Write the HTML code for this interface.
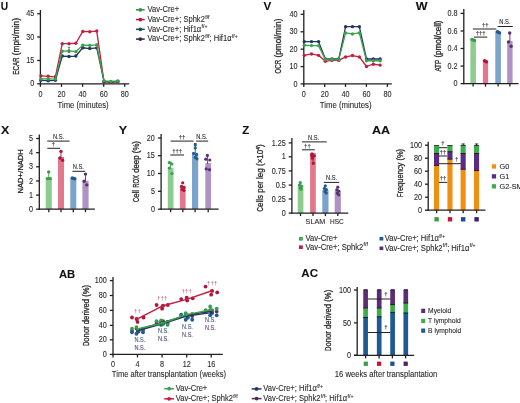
<!DOCTYPE html>
<html><head><meta charset="utf-8"><style>
html,body{margin:0;padding:0;background:#fff;width:520px;height:403px;overflow:hidden}
svg{display:block;font-family:"Liberation Sans",sans-serif;filter:blur(0.3px)}
text{stroke:currentColor;stroke-width:0.1px;paint-order:stroke}
</style></head><body>
<svg xmlns="http://www.w3.org/2000/svg" width="520" height="403" viewBox="0 0 520 403" fill="#2a2728" color="#2a2728">
<rect width="520" height="403" fill="#fff"/>
<text x="0.85" y="9.5" font-size="11.3" font-weight="bold" fill="#111" color="#111" textLength="7.4" lengthAdjust="spacingAndGlyphs">U</text>
<line x1="40.4" y1="10" x2="40.4" y2="84.35" stroke="#231f20" stroke-width="1.3"/>
<line x1="37.2" y1="13.7" x2="40.4" y2="13.7" stroke="#231f20" stroke-width="1.3"/>
<text x="34.2" y="16.37" font-size="8.6" text-anchor="end" textLength="8.03" lengthAdjust="spacingAndGlyphs">45</text>
<line x1="37.2" y1="37" x2="40.4" y2="37" stroke="#231f20" stroke-width="1.3"/>
<text x="34.2" y="39.67" font-size="8.6" text-anchor="end" textLength="8.03" lengthAdjust="spacingAndGlyphs">30</text>
<line x1="37.2" y1="60.5" x2="40.4" y2="60.5" stroke="#231f20" stroke-width="1.3"/>
<text x="34.2" y="63.17" font-size="8.6" text-anchor="end" textLength="8.03" lengthAdjust="spacingAndGlyphs">15</text>
<line x1="37.2" y1="83.8" x2="40.4" y2="83.8" stroke="#231f20" stroke-width="1.3"/>
<text x="34.2" y="86.47" font-size="8.6" text-anchor="end" textLength="4.02" lengthAdjust="spacingAndGlyphs">0</text>
<line x1="39.85" y1="83.8" x2="129.2" y2="83.8" stroke="#231f20" stroke-width="1.3"/>
<line x1="40.4" y1="83.8" x2="40.4" y2="86.8" stroke="#231f20" stroke-width="1.3"/>
<line x1="61.5" y1="83.8" x2="61.5" y2="86.8" stroke="#231f20" stroke-width="1.3"/>
<line x1="82.6" y1="83.8" x2="82.6" y2="86.8" stroke="#231f20" stroke-width="1.3"/>
<line x1="103.7" y1="83.8" x2="103.7" y2="86.8" stroke="#231f20" stroke-width="1.3"/>
<line x1="124.7" y1="83.8" x2="124.7" y2="86.8" stroke="#231f20" stroke-width="1.3"/>
<text x="40.4" y="96.6" font-size="8.6" text-anchor="middle" textLength="4.02" lengthAdjust="spacingAndGlyphs">0</text>
<text x="61.5" y="96.6" font-size="8.6" text-anchor="middle" textLength="8.03" lengthAdjust="spacingAndGlyphs">20</text>
<text x="82.6" y="96.6" font-size="8.6" text-anchor="middle" textLength="8.03" lengthAdjust="spacingAndGlyphs">40</text>
<text x="103.7" y="96.6" font-size="8.6" text-anchor="middle" textLength="8.03" lengthAdjust="spacingAndGlyphs">60</text>
<text x="124.7" y="96.6" font-size="8.6" text-anchor="middle" textLength="8.03" lengthAdjust="spacingAndGlyphs">80</text>
<text x="83.1" y="108.4" font-size="9.4" text-anchor="middle" textLength="51" lengthAdjust="spacingAndGlyphs">Time (minutes)</text>
<text x="18.9" y="74.7" font-size="8.2" transform="rotate(-90 18.9 74.7)" textLength="17.25" lengthAdjust="spacingAndGlyphs" style="stroke-width:0.3px">ECAR</text>
<text x="18.9" y="57.45" font-size="8.2" transform="rotate(-90 18.9 57.45)" textLength="16.56" lengthAdjust="spacingAndGlyphs" style="stroke-width:0.3px">&#160;(mp</text>
<text x="18.9" y="40.89" font-size="8.2" transform="rotate(-90 18.9 40.89)" textLength="4.48" lengthAdjust="spacingAndGlyphs" style="stroke-width:0.3px">H</text>
<text x="18.9" y="36.4" font-size="8.2" transform="rotate(-90 18.9 36.4)" textLength="18.4" lengthAdjust="spacingAndGlyphs" style="stroke-width:0.3px">/min)</text>
<polyline points="40.93,75.84 48.21,76.31 55.38,76.78 62.24,43.71 68.99,43.71 75.85,43.24 82.81,31.38 89.77,31.7 96.74,31.07 104.02,81.77 110.87,82.24 117.84,81.77" fill="none" stroke="#c41e3f" stroke-width="1.3" stroke-linejoin="round"/>
<circle cx="40.93" cy="75.84" r="1.7" fill="#c41e3f"/>
<circle cx="48.21" cy="76.31" r="1.7" fill="#c41e3f"/>
<circle cx="55.38" cy="76.78" r="1.7" fill="#c41e3f"/>
<circle cx="62.24" cy="43.71" r="1.7" fill="#c41e3f"/>
<circle cx="68.99" cy="43.71" r="1.7" fill="#c41e3f"/>
<circle cx="75.85" cy="43.24" r="1.7" fill="#c41e3f"/>
<circle cx="82.81" cy="31.38" r="1.7" fill="#c41e3f"/>
<circle cx="89.77" cy="31.7" r="1.7" fill="#c41e3f"/>
<circle cx="96.74" cy="31.07" r="1.7" fill="#c41e3f"/>
<circle cx="104.02" cy="81.77" r="1.7" fill="#c41e3f"/>
<circle cx="110.87" cy="82.24" r="1.7" fill="#c41e3f"/>
<circle cx="117.84" cy="81.77" r="1.7" fill="#c41e3f"/>
<polyline points="40.93,80.37 48.21,80.68 55.38,80.37 62.24,56.03 68.99,56.5 75.85,56.03 82.81,47.76 89.77,48.54 96.74,47.92 104.02,81.46 110.87,81.93 117.84,81.46" fill="none" stroke="#22365f" stroke-width="1.3" stroke-linejoin="round"/>
<circle cx="40.93" cy="80.37" r="1.7" fill="#22365f"/>
<circle cx="48.21" cy="80.68" r="1.7" fill="#22365f"/>
<circle cx="55.38" cy="80.37" r="1.7" fill="#22365f"/>
<circle cx="62.24" cy="56.03" r="1.7" fill="#22365f"/>
<circle cx="68.99" cy="56.5" r="1.7" fill="#22365f"/>
<circle cx="75.85" cy="56.03" r="1.7" fill="#22365f"/>
<circle cx="82.81" cy="47.76" r="1.7" fill="#22365f"/>
<circle cx="89.77" cy="48.54" r="1.7" fill="#22365f"/>
<circle cx="96.74" cy="47.92" r="1.7" fill="#22365f"/>
<circle cx="104.02" cy="81.46" r="1.7" fill="#22365f"/>
<circle cx="110.87" cy="81.93" r="1.7" fill="#22365f"/>
<circle cx="117.84" cy="81.46" r="1.7" fill="#22365f"/>
<polyline points="40.93,78.96 48.21,78.96 55.38,79.12 62.24,51.2 68.99,50.88 75.85,51.66 82.81,45.11 89.77,45.42 96.74,44.8 104.02,80.84 110.87,81.46 117.84,80.99" fill="none" stroke="#3aa24c" stroke-width="1.3" stroke-linejoin="round"/>
<circle cx="40.93" cy="78.96" r="1.7" fill="#3aa24c"/>
<circle cx="48.21" cy="78.96" r="1.7" fill="#3aa24c"/>
<circle cx="55.38" cy="79.12" r="1.7" fill="#3aa24c"/>
<circle cx="62.24" cy="51.2" r="1.7" fill="#3aa24c"/>
<circle cx="68.99" cy="50.88" r="1.7" fill="#3aa24c"/>
<circle cx="75.85" cy="51.66" r="1.7" fill="#3aa24c"/>
<circle cx="82.81" cy="45.11" r="1.7" fill="#3aa24c"/>
<circle cx="89.77" cy="45.42" r="1.7" fill="#3aa24c"/>
<circle cx="96.74" cy="44.8" r="1.7" fill="#3aa24c"/>
<circle cx="104.02" cy="80.84" r="1.7" fill="#3aa24c"/>
<circle cx="110.87" cy="81.46" r="1.7" fill="#3aa24c"/>
<circle cx="117.84" cy="80.99" r="1.7" fill="#3aa24c"/>
<line x1="69" y1="47.3" x2="69" y2="52.6" stroke="#3c7a45" stroke-width="0.9"/>
<line x1="67.8" y1="47.3" x2="70.2" y2="47.3" stroke="#3c7a45" stroke-width="0.9"/>
<line x1="67.8" y1="52.6" x2="70.2" y2="52.6" stroke="#3c7a45" stroke-width="0.9"/>
<line x1="136" y1="9.8" x2="144.7" y2="9.8" stroke="#2f9448" stroke-width="1.5"/>
<circle cx="140.3" cy="9.8" r="1.9" fill="#2f9448"/>
<text x="0" y="0" font-size="8.2" transform="translate(147.6 12) scale(0.925 1)">Vav-Cre+</text>
<line x1="136" y1="19.57" x2="144.7" y2="19.57" stroke="#b8173c" stroke-width="1.5"/>
<circle cx="140.3" cy="19.57" r="1.9" fill="#b8173c"/>
<text x="0" y="0" font-size="8.2" transform="translate(147.6 21.77) scale(0.925 1)">Vav-Cre+; Sphk2<tspan font-size="5.6" dx="0.4" dy="-3.2">f/f</tspan></text>
<line x1="136" y1="29.34" x2="144.7" y2="29.34" stroke="#17505a" stroke-width="1.5"/>
<circle cx="140.3" cy="29.34" r="1.9" fill="#17505a"/>
<text x="0" y="0" font-size="8.2" transform="translate(147.6 31.54) scale(0.925 1)">Vav-Cre+; Hif1&#945;<tspan font-size="5.6" dx="0.4" dy="-3.2">f/+</tspan></text>
<line x1="136" y1="39.11" x2="144.7" y2="39.11" stroke="#3e2346" stroke-width="1.5"/>
<circle cx="140.3" cy="39.11" r="1.9" fill="#3e2346"/>
<text x="0" y="0" font-size="8.2" transform="translate(147.6 41.31) scale(0.925 1)">Vav-Cre+; Sphk2<tspan font-size="5.6" dx="0.4" dy="-3.2">f/f</tspan><tspan dy="3.2">; Hif1&#945;</tspan><tspan font-size="5.6" dx="0.4" dy="-3.2">f/+</tspan></text>
<text x="263.55" y="9.7" font-size="11.3" font-weight="bold" fill="#111" color="#111" textLength="7.8" lengthAdjust="spacingAndGlyphs">V</text>
<line x1="303.8" y1="10" x2="303.8" y2="84.45" stroke="#231f20" stroke-width="1.3"/>
<line x1="300.6" y1="14.3" x2="303.8" y2="14.3" stroke="#231f20" stroke-width="1.3"/>
<text x="297.6" y="16.97" font-size="8.6" text-anchor="end" textLength="8.03" lengthAdjust="spacingAndGlyphs">40</text>
<line x1="300.6" y1="31.8" x2="303.8" y2="31.8" stroke="#231f20" stroke-width="1.3"/>
<text x="297.6" y="34.47" font-size="8.6" text-anchor="end" textLength="8.03" lengthAdjust="spacingAndGlyphs">30</text>
<line x1="300.6" y1="49.2" x2="303.8" y2="49.2" stroke="#231f20" stroke-width="1.3"/>
<text x="297.6" y="51.87" font-size="8.6" text-anchor="end" textLength="8.03" lengthAdjust="spacingAndGlyphs">20</text>
<line x1="300.6" y1="66.6" x2="303.8" y2="66.6" stroke="#231f20" stroke-width="1.3"/>
<text x="297.6" y="69.27" font-size="8.6" text-anchor="end" textLength="8.03" lengthAdjust="spacingAndGlyphs">10</text>
<line x1="300.6" y1="83.9" x2="303.8" y2="83.9" stroke="#231f20" stroke-width="1.3"/>
<text x="297.6" y="86.57" font-size="8.6" text-anchor="end" textLength="4.02" lengthAdjust="spacingAndGlyphs">0</text>
<line x1="303.25" y1="83.9" x2="391.8" y2="83.9" stroke="#231f20" stroke-width="1.3"/>
<line x1="303.8" y1="83.9" x2="303.8" y2="86.9" stroke="#231f20" stroke-width="1.3"/>
<line x1="324.7" y1="83.9" x2="324.7" y2="86.9" stroke="#231f20" stroke-width="1.3"/>
<line x1="345.5" y1="83.9" x2="345.5" y2="86.9" stroke="#231f20" stroke-width="1.3"/>
<line x1="366.4" y1="83.9" x2="366.4" y2="86.9" stroke="#231f20" stroke-width="1.3"/>
<line x1="387.4" y1="83.9" x2="387.4" y2="86.9" stroke="#231f20" stroke-width="1.3"/>
<text x="303.8" y="96.6" font-size="8.6" text-anchor="middle" textLength="4.02" lengthAdjust="spacingAndGlyphs">0</text>
<text x="324.7" y="96.6" font-size="8.6" text-anchor="middle" textLength="8.03" lengthAdjust="spacingAndGlyphs">20</text>
<text x="345.5" y="96.6" font-size="8.6" text-anchor="middle" textLength="8.03" lengthAdjust="spacingAndGlyphs">40</text>
<text x="366.4" y="96.6" font-size="8.6" text-anchor="middle" textLength="8.03" lengthAdjust="spacingAndGlyphs">60</text>
<text x="387.4" y="96.6" font-size="8.6" text-anchor="middle" textLength="8.03" lengthAdjust="spacingAndGlyphs">80</text>
<text x="345.6" y="108.4" font-size="9.4" text-anchor="middle" textLength="51.8" lengthAdjust="spacingAndGlyphs">Time (minutes)</text>
<text x="281.4" y="73.5" font-size="8.6" transform="rotate(-90 281.4 73.5)" textLength="13.72" lengthAdjust="spacingAndGlyphs" style="stroke-width:0.3px">OCR</text>
<text x="281.4" y="59.78" font-size="8.6" transform="rotate(-90 281.4 59.78)" textLength="41.18" lengthAdjust="spacingAndGlyphs" style="stroke-width:0.3px">&#160;(pmol/min)</text>
<polyline points="304.32,55.36 311.5,53.97 318.57,55.36 325.33,61.28 331.98,60.41 338.74,60.41 345.61,56.93 352.47,55.54 359.34,56.93 366.51,66.5 373.27,64.24 380.14,65.11" fill="none" stroke="#c41e3f" stroke-width="1.3" stroke-linejoin="round"/>
<circle cx="304.32" cy="55.36" r="1.7" fill="#c41e3f"/>
<circle cx="311.5" cy="53.97" r="1.7" fill="#c41e3f"/>
<circle cx="318.57" cy="55.36" r="1.7" fill="#c41e3f"/>
<circle cx="325.33" cy="61.28" r="1.7" fill="#c41e3f"/>
<circle cx="331.98" cy="60.41" r="1.7" fill="#c41e3f"/>
<circle cx="338.74" cy="60.41" r="1.7" fill="#c41e3f"/>
<circle cx="345.61" cy="56.93" r="1.7" fill="#c41e3f"/>
<circle cx="352.47" cy="55.54" r="1.7" fill="#c41e3f"/>
<circle cx="359.34" cy="56.93" r="1.7" fill="#c41e3f"/>
<circle cx="366.51" cy="66.5" r="1.7" fill="#c41e3f"/>
<circle cx="373.27" cy="64.24" r="1.7" fill="#c41e3f"/>
<circle cx="380.14" cy="65.11" r="1.7" fill="#c41e3f"/>
<polyline points="304.32,41.62 311.5,41.62 318.57,41.62 325.33,59.02 331.98,59.02 338.74,59.02 345.61,26.65 352.47,26.65 359.34,26.65 366.51,59.02 373.27,59.02 380.14,59.02" fill="none" stroke="#22365f" stroke-width="1.3" stroke-linejoin="round"/>
<circle cx="304.32" cy="41.62" r="1.7" fill="#22365f"/>
<circle cx="311.5" cy="41.62" r="1.7" fill="#22365f"/>
<circle cx="318.57" cy="41.62" r="1.7" fill="#22365f"/>
<circle cx="325.33" cy="59.02" r="1.7" fill="#22365f"/>
<circle cx="331.98" cy="59.02" r="1.7" fill="#22365f"/>
<circle cx="338.74" cy="59.02" r="1.7" fill="#22365f"/>
<circle cx="345.61" cy="26.65" r="1.7" fill="#22365f"/>
<circle cx="352.47" cy="26.65" r="1.7" fill="#22365f"/>
<circle cx="359.34" cy="26.65" r="1.7" fill="#22365f"/>
<circle cx="366.51" cy="59.02" r="1.7" fill="#22365f"/>
<circle cx="373.27" cy="59.02" r="1.7" fill="#22365f"/>
<circle cx="380.14" cy="59.02" r="1.7" fill="#22365f"/>
<polyline points="304.32,45.27 311.5,45.62 318.57,45.62 325.33,59.54 331.98,59.54 338.74,59.54 345.61,32.92 352.47,33.96 359.34,32.92 366.51,60.76 373.27,60.76 380.14,60.76" fill="none" stroke="#3aa24c" stroke-width="1.3" stroke-linejoin="round"/>
<circle cx="304.32" cy="45.27" r="1.7" fill="#3aa24c"/>
<circle cx="311.5" cy="45.62" r="1.7" fill="#3aa24c"/>
<circle cx="318.57" cy="45.62" r="1.7" fill="#3aa24c"/>
<circle cx="325.33" cy="59.54" r="1.7" fill="#3aa24c"/>
<circle cx="331.98" cy="59.54" r="1.7" fill="#3aa24c"/>
<circle cx="338.74" cy="59.54" r="1.7" fill="#3aa24c"/>
<circle cx="345.61" cy="32.92" r="1.7" fill="#3aa24c"/>
<circle cx="352.47" cy="33.96" r="1.7" fill="#3aa24c"/>
<circle cx="359.34" cy="32.92" r="1.7" fill="#3aa24c"/>
<circle cx="366.51" cy="60.76" r="1.7" fill="#3aa24c"/>
<circle cx="373.27" cy="60.76" r="1.7" fill="#3aa24c"/>
<circle cx="380.14" cy="60.76" r="1.7" fill="#3aa24c"/>
<text x="415.65" y="10.2" font-size="11.3" font-weight="bold" fill="#111" color="#111" textLength="11.8" lengthAdjust="spacingAndGlyphs">W</text>
<line x1="463.8" y1="9.1" x2="463.8" y2="84.15" stroke="#231f20" stroke-width="1.3"/>
<line x1="460.6" y1="13.4" x2="463.8" y2="13.4" stroke="#231f20" stroke-width="1.3"/>
<text x="457.6" y="16.07" font-size="8.6" text-anchor="end" textLength="10.04" lengthAdjust="spacingAndGlyphs">0.8</text>
<line x1="460.6" y1="31" x2="463.8" y2="31" stroke="#231f20" stroke-width="1.3"/>
<text x="457.6" y="33.67" font-size="8.6" text-anchor="end" textLength="10.04" lengthAdjust="spacingAndGlyphs">0.6</text>
<line x1="460.6" y1="48.5" x2="463.8" y2="48.5" stroke="#231f20" stroke-width="1.3"/>
<text x="457.6" y="51.17" font-size="8.6" text-anchor="end" textLength="10.04" lengthAdjust="spacingAndGlyphs">0.4</text>
<line x1="460.6" y1="66.1" x2="463.8" y2="66.1" stroke="#231f20" stroke-width="1.3"/>
<text x="457.6" y="68.77" font-size="8.6" text-anchor="end" textLength="10.04" lengthAdjust="spacingAndGlyphs">0.2</text>
<line x1="460.6" y1="83.6" x2="463.8" y2="83.6" stroke="#231f20" stroke-width="1.3"/>
<text x="457.6" y="86.27" font-size="8.6" text-anchor="end" textLength="4.02" lengthAdjust="spacingAndGlyphs">0</text>
<text x="441" y="71.6" font-size="8.3" transform="rotate(-90 441 71.6)" textLength="11.74" lengthAdjust="spacingAndGlyphs" style="stroke-width:0.3px">ATP</text>
<text x="441" y="59.86" font-size="8.3" transform="rotate(-90 441 59.86)" textLength="39.36" lengthAdjust="spacingAndGlyphs" style="stroke-width:0.3px">&#160;(pmol/cell)</text>
<rect x="470.4" y="39" width="5.5" height="44.6" fill="#8ccd8f"/>
<rect x="482.9" y="60.4" width="5.2" height="23.2" fill="#e4778c"/>
<rect x="495.3" y="31.6" width="5.6" height="52" fill="#7ca3cb"/>
<rect x="507.2" y="40.9" width="5.4" height="42.7" fill="#af93c4"/>
<line x1="463.25" y1="83.6" x2="518.5" y2="83.6" stroke="#231f20" stroke-width="1.3"/>
<line x1="473.1" y1="83.6" x2="473.1" y2="86.6" stroke="#231f20" stroke-width="1.3"/>
<line x1="485.5" y1="83.6" x2="485.5" y2="86.6" stroke="#231f20" stroke-width="1.3"/>
<line x1="498.1" y1="83.6" x2="498.1" y2="86.6" stroke="#231f20" stroke-width="1.3"/>
<line x1="509.9" y1="83.6" x2="509.9" y2="86.6" stroke="#231f20" stroke-width="1.3"/>
<circle cx="472" cy="39.4" r="1.7" fill="#3a9c4c"/>
<circle cx="474.4" cy="40.5" r="1.7" fill="#3a9c4c"/>
<circle cx="473.2" cy="39.9" r="1.7" fill="#3a9c4c"/>
<circle cx="484.5" cy="60.8" r="1.7" fill="#b3143c"/>
<circle cx="486.5" cy="61.9" r="1.7" fill="#b3143c"/>
<circle cx="485.5" cy="61.3" r="1.7" fill="#b3143c"/>
<circle cx="497.3" cy="31.8" r="1.7" fill="#1f5a94"/>
<circle cx="499.5" cy="32.9" r="1.7" fill="#1f5a94"/>
<circle cx="498.4" cy="32.3" r="1.7" fill="#1f5a94"/>
<line x1="509.9" y1="33" x2="509.9" y2="41.5" stroke="#5a2f70" stroke-width="0.9"/>
<line x1="508.7" y1="33" x2="511.1" y2="33" stroke="#5a2f70" stroke-width="0.9"/>
<circle cx="509.7" cy="33" r="1.7" fill="#5a2f70"/>
<circle cx="508.5" cy="41.9" r="1.7" fill="#5a2f70"/>
<circle cx="511.1" cy="46.2" r="1.7" fill="#5a2f70"/>
<line x1="473.9" y1="37.1" x2="487.3" y2="37.1" stroke="#222" stroke-width="1"/>
<text x="480.6" y="35.4" font-size="5.6" text-anchor="middle" textLength="9.9" lengthAdjust="spacingAndGlyphs">&#8224;&#8224;&#8224;</text>
<line x1="472.9" y1="29" x2="496.3" y2="29" stroke="#222" stroke-width="1"/>
<text x="485.2" y="26.6" font-size="5.6" text-anchor="middle" textLength="6.6" lengthAdjust="spacingAndGlyphs">&#8224;&#8224;</text>
<line x1="497.7" y1="26.5" x2="512.8" y2="26.5" stroke="#222" stroke-width="1"/>
<text x="504.9" y="24.3" font-size="6.3" text-anchor="middle" textLength="11.2" lengthAdjust="spacingAndGlyphs">N.S.</text>
<text x="1.05" y="133.8" font-size="11.3" font-weight="bold" fill="#111" color="#111" textLength="8.3" lengthAdjust="spacingAndGlyphs">X</text>
<line x1="39.3" y1="134.5" x2="39.3" y2="209.75" stroke="#231f20" stroke-width="1.3"/>
<line x1="36.1" y1="138.5" x2="39.3" y2="138.5" stroke="#231f20" stroke-width="1.3"/>
<text x="33.1" y="141.17" font-size="8.6" text-anchor="end" textLength="4.02" lengthAdjust="spacingAndGlyphs">5</text>
<line x1="36.1" y1="152.65" x2="39.3" y2="152.65" stroke="#231f20" stroke-width="1.3"/>
<text x="33.1" y="155.32" font-size="8.6" text-anchor="end" textLength="4.02" lengthAdjust="spacingAndGlyphs">4</text>
<line x1="36.1" y1="166.8" x2="39.3" y2="166.8" stroke="#231f20" stroke-width="1.3"/>
<text x="33.1" y="169.47" font-size="8.6" text-anchor="end" textLength="4.02" lengthAdjust="spacingAndGlyphs">3</text>
<line x1="36.1" y1="180.95" x2="39.3" y2="180.95" stroke="#231f20" stroke-width="1.3"/>
<text x="33.1" y="183.62" font-size="8.6" text-anchor="end" textLength="4.02" lengthAdjust="spacingAndGlyphs">2</text>
<line x1="36.1" y1="195.1" x2="39.3" y2="195.1" stroke="#231f20" stroke-width="1.3"/>
<text x="33.1" y="197.77" font-size="8.6" text-anchor="end" textLength="4.02" lengthAdjust="spacingAndGlyphs">1</text>
<line x1="36.1" y1="209.2" x2="39.3" y2="209.2" stroke="#231f20" stroke-width="1.3"/>
<text x="33.1" y="211.87" font-size="8.6" text-anchor="end" textLength="4.02" lengthAdjust="spacingAndGlyphs">0</text>
<text x="23" y="193.4" font-size="8" transform="rotate(-90 23 193.4)" textLength="15.7" lengthAdjust="spacingAndGlyphs" style="stroke-width:0.3px">NAD</text>
<text x="23" y="177.7" font-size="8" transform="rotate(-90 23 177.7)" textLength="7.12" lengthAdjust="spacingAndGlyphs" style="stroke-width:0.3px">+/</text>
<text x="23" y="170.57" font-size="8" transform="rotate(-90 23 170.57)" textLength="21.07" lengthAdjust="spacingAndGlyphs" style="stroke-width:0.3px">NADH</text>
<rect x="45.7" y="177.5" width="6.1" height="31.7" fill="#8ccd8f"/>
<rect x="58" y="157" width="6" height="52.2" fill="#e4778c"/>
<rect x="70.3" y="178.2" width="6" height="31" fill="#7ca3cb"/>
<rect x="82.4" y="180.8" width="6.2" height="28.4" fill="#af93c4"/>
<line x1="38.75" y1="209.2" x2="94.9" y2="209.2" stroke="#231f20" stroke-width="1.3"/>
<line x1="48.8" y1="209.2" x2="48.8" y2="212.2" stroke="#231f20" stroke-width="1.3"/>
<line x1="61" y1="209.2" x2="61" y2="212.2" stroke="#231f20" stroke-width="1.3"/>
<line x1="73.3" y1="209.2" x2="73.3" y2="212.2" stroke="#231f20" stroke-width="1.3"/>
<line x1="85.5" y1="209.2" x2="85.5" y2="212.2" stroke="#231f20" stroke-width="1.3"/>
<line x1="48.7" y1="171.9" x2="48.7" y2="178" stroke="#3a9c4c" stroke-width="0.9"/>
<line x1="47.5" y1="171.9" x2="49.9" y2="171.9" stroke="#3a9c4c" stroke-width="0.9"/>
<circle cx="48.7" cy="171.9" r="1.7" fill="#3a9c4c"/>
<circle cx="47.6" cy="178.6" r="1.7" fill="#3a9c4c"/>
<circle cx="50.2" cy="178.6" r="1.7" fill="#3a9c4c"/>
<line x1="61" y1="151.4" x2="61" y2="157" stroke="#b3143c" stroke-width="0.9"/>
<line x1="59.8" y1="151.4" x2="62.2" y2="151.4" stroke="#b3143c" stroke-width="0.9"/>
<circle cx="61" cy="151.4" r="1.7" fill="#b3143c"/>
<circle cx="60" cy="158" r="1.7" fill="#b3143c"/>
<circle cx="62.6" cy="160.3" r="1.7" fill="#b3143c"/>
<circle cx="72.2" cy="178" r="1.7" fill="#1f5a94"/>
<circle cx="73.6" cy="178.4" r="1.7" fill="#1f5a94"/>
<circle cx="74.8" cy="178.8" r="1.7" fill="#1f5a94"/>
<line x1="85.5" y1="174.1" x2="85.5" y2="181" stroke="#5a2f70" stroke-width="0.9"/>
<line x1="84.3" y1="174.1" x2="86.7" y2="174.1" stroke="#5a2f70" stroke-width="0.9"/>
<circle cx="85.5" cy="174.1" r="1.7" fill="#5a2f70"/>
<circle cx="84.2" cy="181.3" r="1.7" fill="#5a2f70"/>
<circle cx="86.8" cy="184.9" r="1.7" fill="#5a2f70"/>
<line x1="47.3" y1="141.1" x2="69.6" y2="141.1" stroke="#222" stroke-width="1"/>
<text x="58.5" y="139.1" font-size="6.3" text-anchor="middle" textLength="11.2" lengthAdjust="spacingAndGlyphs">N.S.</text>
<line x1="47.3" y1="148.3" x2="60.1" y2="148.3" stroke="#222" stroke-width="1"/>
<text x="53.3" y="146" font-size="5.6" text-anchor="middle" textLength="3.3" lengthAdjust="spacingAndGlyphs">&#8224;</text>
<line x1="72.4" y1="171.3" x2="85.2" y2="171.3" stroke="#222" stroke-width="1"/>
<text x="78.3" y="168.6" font-size="6.3" text-anchor="middle" textLength="11.2" lengthAdjust="spacingAndGlyphs">N.S.</text>
<text x="118.65" y="133.8" font-size="11.3" font-weight="bold" fill="#111" color="#111" textLength="8.4" lengthAdjust="spacingAndGlyphs">Y</text>
<line x1="161.1" y1="134" x2="161.1" y2="209.75" stroke="#231f20" stroke-width="1.3"/>
<line x1="157.9" y1="138" x2="161.1" y2="138" stroke="#231f20" stroke-width="1.3"/>
<text x="154.9" y="140.67" font-size="8.6" text-anchor="end" textLength="8.03" lengthAdjust="spacingAndGlyphs">20</text>
<line x1="157.9" y1="155.7" x2="161.1" y2="155.7" stroke="#231f20" stroke-width="1.3"/>
<text x="154.9" y="158.37" font-size="8.6" text-anchor="end" textLength="8.03" lengthAdjust="spacingAndGlyphs">15</text>
<line x1="157.9" y1="173.5" x2="161.1" y2="173.5" stroke="#231f20" stroke-width="1.3"/>
<text x="154.9" y="176.17" font-size="8.6" text-anchor="end" textLength="8.03" lengthAdjust="spacingAndGlyphs">10</text>
<line x1="157.9" y1="191.3" x2="161.1" y2="191.3" stroke="#231f20" stroke-width="1.3"/>
<text x="154.9" y="193.97" font-size="8.6" text-anchor="end" textLength="4.02" lengthAdjust="spacingAndGlyphs">5</text>
<line x1="157.9" y1="209.2" x2="161.1" y2="209.2" stroke="#231f20" stroke-width="1.3"/>
<text x="154.9" y="211.87" font-size="8.6" text-anchor="end" textLength="4.02" lengthAdjust="spacingAndGlyphs">0</text>
<text x="139.5" y="202.1" font-size="9" transform="rotate(-90 139.5 202.1)" textLength="4.25" lengthAdjust="spacingAndGlyphs" style="stroke-width:0.3px">C</text>
<text x="139.5" y="197.85" font-size="9" transform="rotate(-90 139.5 197.85)" textLength="10.04" lengthAdjust="spacingAndGlyphs" style="stroke-width:0.3px">ell&#160;</text>
<text x="139.5" y="187.81" font-size="9" transform="rotate(-90 139.5 187.81)" textLength="12.76" lengthAdjust="spacingAndGlyphs" style="stroke-width:0.3px">ROX</text>
<text x="139.5" y="175.05" font-size="9" transform="rotate(-90 139.5 175.05)" textLength="34.05" lengthAdjust="spacingAndGlyphs" style="stroke-width:0.3px">&#160;deep&#160;(%)</text>
<rect x="167.8" y="168.1" width="5.7" height="41.1" fill="#8ccd8f"/>
<rect x="179.9" y="186.6" width="5.7" height="22.6" fill="#e4778c"/>
<rect x="192" y="153.5" width="6.2" height="55.7" fill="#7ca3cb"/>
<rect x="205.3" y="163.2" width="5.8" height="46" fill="#af93c4"/>
<line x1="160.55" y1="209.2" x2="218.6" y2="209.2" stroke="#231f20" stroke-width="1.3"/>
<line x1="170.6" y1="209.2" x2="170.6" y2="212.2" stroke="#231f20" stroke-width="1.3"/>
<line x1="182.8" y1="209.2" x2="182.8" y2="212.2" stroke="#231f20" stroke-width="1.3"/>
<line x1="195.1" y1="209.2" x2="195.1" y2="212.2" stroke="#231f20" stroke-width="1.3"/>
<line x1="208.2" y1="209.2" x2="208.2" y2="212.2" stroke="#231f20" stroke-width="1.3"/>
<line x1="170.6" y1="162.4" x2="170.6" y2="169" stroke="#3a9c4c" stroke-width="0.9"/>
<line x1="169.3" y1="162.2" x2="171.9" y2="162.2" stroke="#3a9c4c" stroke-width="0.9"/>
<circle cx="169.3" cy="162.6" r="1.6" fill="#3a9c4c"/>
<circle cx="171.9" cy="164" r="1.6" fill="#3a9c4c"/>
<circle cx="169.3" cy="168" r="1.6" fill="#3a9c4c"/>
<circle cx="171.9" cy="173.5" r="1.6" fill="#3a9c4c"/>
<circle cx="182.7" cy="182.8" r="1.6" fill="#b3143c"/>
<circle cx="181.5" cy="186.3" r="1.6" fill="#b3143c"/>
<circle cx="184" cy="187.4" r="1.6" fill="#b3143c"/>
<circle cx="182" cy="189.5" r="1.6" fill="#b3143c"/>
<circle cx="184" cy="190.6" r="1.6" fill="#b3143c"/>
<line x1="195.3" y1="143.5" x2="195.3" y2="153" stroke="#1f5a94" stroke-width="0.9"/>
<line x1="194" y1="143.5" x2="196.6" y2="143.5" stroke="#1f5a94" stroke-width="0.9"/>
<circle cx="195.3" cy="144.9" r="1.6" fill="#1f5a94"/>
<circle cx="195.3" cy="148" r="1.6" fill="#1f5a94"/>
<circle cx="193.6" cy="153.3" r="1.6" fill="#1f5a94"/>
<circle cx="196.5" cy="154.4" r="1.6" fill="#1f5a94"/>
<circle cx="195.3" cy="157.4" r="1.6" fill="#1f5a94"/>
<circle cx="196.9" cy="158.8" r="1.6" fill="#1f5a94"/>
<line x1="207.6" y1="155.2" x2="207.6" y2="164" stroke="#5a2f70" stroke-width="0.9"/>
<circle cx="207.4" cy="155.4" r="1.6" fill="#5a2f70"/>
<circle cx="209.8" cy="160" r="1.6" fill="#5a2f70"/>
<circle cx="205.8" cy="159.2" r="1.6" fill="#5a2f70"/>
<circle cx="206.2" cy="168.9" r="1.6" fill="#5a2f70"/>
<circle cx="209.5" cy="169.7" r="1.6" fill="#5a2f70"/>
<line x1="170.7" y1="141.1" x2="193.6" y2="141.1" stroke="#222" stroke-width="1"/>
<text x="182" y="138.9" font-size="5.6" text-anchor="middle" textLength="6.6" lengthAdjust="spacingAndGlyphs">&#8224;&#8224;</text>
<line x1="170.3" y1="155" x2="184" y2="155" stroke="#222" stroke-width="1"/>
<text x="177.2" y="153.1" font-size="5.6" text-anchor="middle" textLength="9.9" lengthAdjust="spacingAndGlyphs">&#8224;&#8224;&#8224;</text>
<line x1="196.1" y1="141.1" x2="208.2" y2="141.1" stroke="#222" stroke-width="1"/>
<text x="201.8" y="139.4" font-size="6.3" text-anchor="middle" textLength="11.2" lengthAdjust="spacingAndGlyphs">N.S.</text>
<text x="242.35" y="133.8" font-size="11.3" font-weight="bold" fill="#111" color="#111" textLength="7" lengthAdjust="spacingAndGlyphs">Z</text>
<line x1="291.9" y1="138" x2="291.9" y2="213.65" stroke="#231f20" stroke-width="1.3"/>
<line x1="288.7" y1="142.9" x2="291.9" y2="142.9" stroke="#231f20" stroke-width="1.3"/>
<text x="285.7" y="145.57" font-size="8.6" text-anchor="end" textLength="14.06" lengthAdjust="spacingAndGlyphs">1.25</text>
<line x1="288.7" y1="156.8" x2="291.9" y2="156.8" stroke="#231f20" stroke-width="1.3"/>
<text x="285.7" y="159.47" font-size="8.6" text-anchor="end" textLength="4.02" lengthAdjust="spacingAndGlyphs">1</text>
<line x1="288.7" y1="170.9" x2="291.9" y2="170.9" stroke="#231f20" stroke-width="1.3"/>
<text x="285.7" y="173.57" font-size="8.6" text-anchor="end" textLength="14.06" lengthAdjust="spacingAndGlyphs">0.75</text>
<line x1="288.7" y1="185.1" x2="291.9" y2="185.1" stroke="#231f20" stroke-width="1.3"/>
<text x="285.7" y="187.77" font-size="8.6" text-anchor="end" textLength="10.04" lengthAdjust="spacingAndGlyphs">0.5</text>
<line x1="288.7" y1="199" x2="291.9" y2="199" stroke="#231f20" stroke-width="1.3"/>
<text x="285.7" y="201.67" font-size="8.6" text-anchor="end" textLength="14.06" lengthAdjust="spacingAndGlyphs">0.25</text>
<line x1="288.7" y1="213.1" x2="291.9" y2="213.1" stroke="#231f20" stroke-width="1.3"/>
<text x="285.7" y="215.77" font-size="8.6" text-anchor="end" textLength="4.02" lengthAdjust="spacingAndGlyphs">0</text>
<text x="263.2" y="211.4" font-size="9.8" transform="rotate(-90 263.2 211.4)" textLength="4.35" lengthAdjust="spacingAndGlyphs" style="stroke-width:0.3px">C</text>
<text x="263.2" y="207.05" font-size="9.8" transform="rotate(-90 263.2 207.05)" textLength="57.32" lengthAdjust="spacingAndGlyphs" style="stroke-width:0.3px">ells&#160;per&#160;leg&#160;(×10</text>
<text x="259.67" y="149.74" font-size="6.08" transform="rotate(-90 259.67 149.74)" textLength="2.77" lengthAdjust="spacingAndGlyphs" style="stroke-width:0.3px">4</text>
<text x="263.2" y="146.97" font-size="9.8" transform="rotate(-90 263.2 146.97)" textLength="2.67" lengthAdjust="spacingAndGlyphs" style="stroke-width:0.3px">)</text>
<rect x="297.7" y="185.8" width="5.7" height="27.3" fill="#8ccd8f"/>
<rect x="310.1" y="153" width="5.7" height="60.1" fill="#e4778c"/>
<rect x="322.3" y="190" width="6.2" height="23.1" fill="#7ca3cb"/>
<rect x="334.7" y="190.8" width="6.2" height="22.3" fill="#af93c4"/>
<line x1="291.65" y1="213.1" x2="348.3" y2="213.1" stroke="#231f20" stroke-width="1.3"/>
<line x1="300.5" y1="213.1" x2="300.5" y2="216.1" stroke="#231f20" stroke-width="1.3"/>
<line x1="313" y1="213.1" x2="313" y2="216.1" stroke="#231f20" stroke-width="1.3"/>
<line x1="325.4" y1="213.1" x2="325.4" y2="216.1" stroke="#231f20" stroke-width="1.3"/>
<line x1="337.8" y1="213.1" x2="337.8" y2="216.1" stroke="#231f20" stroke-width="1.3"/>
<line x1="313" y1="153" x2="313" y2="164.5" stroke="#b3143c" stroke-width="0.9"/>
<circle cx="300.3" cy="182.6" r="1.6" fill="#3a9c4c"/>
<circle cx="299.4" cy="185" r="1.6" fill="#3a9c4c"/>
<circle cx="301.5" cy="186.2" r="1.6" fill="#3a9c4c"/>
<circle cx="300.2" cy="188" r="1.6" fill="#3a9c4c"/>
<circle cx="301.2" cy="189.2" r="1.6" fill="#3a9c4c"/>
<circle cx="312" cy="153.8" r="1.6" fill="#b3143c"/>
<circle cx="314.2" cy="155.8" r="1.6" fill="#b3143c"/>
<circle cx="312.4" cy="158.2" r="1.6" fill="#b3143c"/>
<circle cx="313.4" cy="163.3" r="1.6" fill="#b3143c"/>
<circle cx="311.6" cy="155.5" r="1.6" fill="#b3143c"/>
<circle cx="325.3" cy="185.8" r="1.6" fill="#1f5a94"/>
<circle cx="324.4" cy="188.4" r="1.6" fill="#1f5a94"/>
<circle cx="326.4" cy="189.5" r="1.6" fill="#1f5a94"/>
<circle cx="325" cy="191.5" r="1.6" fill="#1f5a94"/>
<circle cx="326.2" cy="193" r="1.6" fill="#1f5a94"/>
<circle cx="337.8" cy="187.2" r="1.6" fill="#5a2f70"/>
<circle cx="336.8" cy="189.8" r="1.6" fill="#5a2f70"/>
<circle cx="338.8" cy="191" r="1.6" fill="#5a2f70"/>
<circle cx="337.4" cy="193.2" r="1.6" fill="#5a2f70"/>
<circle cx="338.6" cy="194.8" r="1.6" fill="#5a2f70"/>
<line x1="301.9" y1="141.9" x2="326.7" y2="141.9" stroke="#222" stroke-width="1"/>
<text x="313.6" y="139.5" font-size="6.3" text-anchor="middle" textLength="11.2" lengthAdjust="spacingAndGlyphs">N.S.</text>
<line x1="301.9" y1="149.8" x2="314.8" y2="149.8" stroke="#222" stroke-width="1"/>
<text x="307.4" y="148" font-size="5.6" text-anchor="middle" textLength="6.6" lengthAdjust="spacingAndGlyphs">&#8224;&#8224;</text>
<line x1="323.8" y1="182.4" x2="339.2" y2="182.4" stroke="#222" stroke-width="1"/>
<text x="331.6" y="180.2" font-size="6.3" text-anchor="middle" textLength="11.2" lengthAdjust="spacingAndGlyphs">N.S.</text>
<text x="315.4" y="223.7" font-size="7.4" text-anchor="middle" textLength="19.6" lengthAdjust="spacingAndGlyphs">SLAM</text>
<text x="336.8" y="223.7" font-size="7.4" text-anchor="middle" textLength="13.6" lengthAdjust="spacingAndGlyphs">HSC</text>
<text x="371.95" y="133.9" font-size="11.3" font-weight="bold" fill="#111" color="#111" textLength="18.1" lengthAdjust="spacingAndGlyphs">AA</text>
<line x1="428.2" y1="141.8" x2="428.2" y2="210.75" stroke="#231f20" stroke-width="1.3"/>
<line x1="425" y1="145.2" x2="428.2" y2="145.2" stroke="#231f20" stroke-width="1.3"/>
<text x="422" y="147.87" font-size="8.6" text-anchor="end" textLength="12.05" lengthAdjust="spacingAndGlyphs">100</text>
<line x1="425" y1="158.2" x2="428.2" y2="158.2" stroke="#231f20" stroke-width="1.3"/>
<text x="422" y="160.87" font-size="8.6" text-anchor="end" textLength="8.03" lengthAdjust="spacingAndGlyphs">80</text>
<line x1="425" y1="171.2" x2="428.2" y2="171.2" stroke="#231f20" stroke-width="1.3"/>
<text x="422" y="173.87" font-size="8.6" text-anchor="end" textLength="8.03" lengthAdjust="spacingAndGlyphs">60</text>
<line x1="425" y1="184.2" x2="428.2" y2="184.2" stroke="#231f20" stroke-width="1.3"/>
<text x="422" y="186.87" font-size="8.6" text-anchor="end" textLength="8.03" lengthAdjust="spacingAndGlyphs">40</text>
<line x1="425" y1="197.2" x2="428.2" y2="197.2" stroke="#231f20" stroke-width="1.3"/>
<text x="422" y="199.87" font-size="8.6" text-anchor="end" textLength="8.03" lengthAdjust="spacingAndGlyphs">20</text>
<line x1="425" y1="210.2" x2="428.2" y2="210.2" stroke="#231f20" stroke-width="1.3"/>
<text x="422" y="212.87" font-size="8.6" text-anchor="end" textLength="4.02" lengthAdjust="spacingAndGlyphs">0</text>
<text x="402.8" y="197" font-size="9.2" transform="rotate(-90 402.8 197)" textLength="3.44" lengthAdjust="spacingAndGlyphs" style="stroke-width:0.3px">F</text>
<text x="402.8" y="193.56" font-size="9.2" transform="rotate(-90 402.8 193.56)" textLength="44.66" lengthAdjust="spacingAndGlyphs" style="stroke-width:0.3px">requency&#160;(%)</text>
<rect x="434" y="145.2" width="5.1" height="8.32" fill="#3daa4d"/>
<rect x="434" y="153.52" width="5.1" height="11.89" fill="#5b2b83"/>
<rect x="434" y="165.41" width="5.1" height="44.79" fill="#f18f12"/>
<rect x="434" y="164.91" width="5.1" height="1" fill="#2a1a20"/>
<rect x="434" y="153.02" width="5.1" height="1" fill="#2a1a20"/>
<rect x="434" y="145" width="5.1" height="0.9" fill="#2a3a2a"/>
<rect x="447.4" y="145.2" width="5.1" height="6.5" fill="#3daa4d"/>
<rect x="447.4" y="151.7" width="5.1" height="7.48" fill="#5b2b83"/>
<rect x="447.4" y="159.17" width="5.1" height="51.02" fill="#f18f12"/>
<rect x="447.4" y="158.67" width="5.1" height="1" fill="#2a1a20"/>
<rect x="447.4" y="151.2" width="5.1" height="1" fill="#2a1a20"/>
<rect x="447.4" y="145" width="5.1" height="0.9" fill="#2a3a2a"/>
<rect x="460.6" y="145.2" width="5.1" height="8.32" fill="#3daa4d"/>
<rect x="460.6" y="153.52" width="5.1" height="15.73" fill="#5b2b83"/>
<rect x="460.6" y="169.25" width="5.1" height="40.95" fill="#f18f12"/>
<rect x="460.6" y="168.75" width="5.1" height="1" fill="#2a1a20"/>
<rect x="460.6" y="153.02" width="5.1" height="1" fill="#2a1a20"/>
<rect x="460.6" y="145" width="5.1" height="0.9" fill="#2a3a2a"/>
<rect x="462.65" y="143.6" width="1" height="1.6" fill="#222"/>
<rect x="461.4" y="143.6" width="3.5" height="0.8" fill="#222"/>
<rect x="474" y="145.2" width="5.1" height="8.32" fill="#3daa4d"/>
<rect x="474" y="153.52" width="5.1" height="17.03" fill="#5b2b83"/>
<rect x="474" y="170.55" width="5.1" height="39.65" fill="#f18f12"/>
<rect x="474" y="170.05" width="5.1" height="1" fill="#2a1a20"/>
<rect x="474" y="153.02" width="5.1" height="1" fill="#2a1a20"/>
<rect x="474" y="145" width="5.1" height="0.9" fill="#2a3a2a"/>
<rect x="476.05" y="143.6" width="1" height="1.6" fill="#222"/>
<rect x="474.8" y="143.6" width="3.5" height="0.8" fill="#222"/>
<line x1="427.65" y1="210.2" x2="485.5" y2="210.2" stroke="#231f20" stroke-width="1.3"/>
<line x1="436.6" y1="210.2" x2="436.6" y2="213.2" stroke="#231f20" stroke-width="1.3"/>
<line x1="450" y1="210.2" x2="450" y2="213.2" stroke="#231f20" stroke-width="1.3"/>
<line x1="463.2" y1="210.2" x2="463.2" y2="213.2" stroke="#231f20" stroke-width="1.3"/>
<line x1="476.6" y1="210.2" x2="476.6" y2="213.2" stroke="#231f20" stroke-width="1.3"/>
<rect x="434.4" y="217.1" width="4.4" height="4.4" fill="#3a9e48"/>
<rect x="447.8" y="217.1" width="4.4" height="4.4" fill="#c8143c"/>
<rect x="461" y="217.1" width="4.4" height="4.4" fill="#1f4f8a"/>
<rect x="474.4" y="217.1" width="4.4" height="4.4" fill="#3e1e6a"/>
<line x1="438.9" y1="147.7" x2="447.2" y2="147.7" stroke="#222" stroke-width="1"/>
<text x="443" y="145.4" font-size="5.6" text-anchor="middle" textLength="3.3" lengthAdjust="spacingAndGlyphs">&#8224;</text>
<line x1="438.9" y1="156" x2="447.2" y2="156" stroke="#222" stroke-width="1"/>
<text x="443" y="154.4" font-size="5.6" text-anchor="middle" textLength="6.6" lengthAdjust="spacingAndGlyphs">&#8224;&#8224;</text>
<line x1="438.9" y1="163.7" x2="460.9" y2="163.7" stroke="#222" stroke-width="1"/>
<text x="456.6" y="161.4" font-size="5.6" text-anchor="middle" textLength="3.3" lengthAdjust="spacingAndGlyphs">&#8224;</text>
<line x1="438.9" y1="182.4" x2="447.2" y2="182.4" stroke="#222" stroke-width="1"/>
<text x="443" y="180.4" font-size="5.6" text-anchor="middle" textLength="6.6" lengthAdjust="spacingAndGlyphs">&#8224;&#8224;</text>
<rect x="491.8" y="164.3" width="4.3" height="4.3" fill="#f18f12"/>
<text x="499.6" y="168.8" font-size="7.3">G0</text>
<rect x="491.8" y="174.2" width="4.3" height="4.3" fill="#5b2b83"/>
<text x="499.6" y="178.7" font-size="7.3">G1</text>
<rect x="491.8" y="184.2" width="4.3" height="4.3" fill="#3daa4d"/>
<text x="499.6" y="188.7" font-size="7.3">G2-SM</text>
<rect x="299" y="237" width="3.8" height="3.6" fill="#3aa84c"/>
<text x="0" y="0" font-size="8.2" transform="translate(305.6 241.1) scale(0.930 1)">Vav-Cre+</text>
<rect x="299" y="245.4" width="3.8" height="3.6" fill="#c2173f"/>
<text x="0" y="0" font-size="8.2" transform="translate(305.6 249.5) scale(0.930 1)">Vav-Cre+; Sphk2<tspan font-size="5.6" dx="0.4" dy="-3.2">f/f</tspan></text>
<rect x="379.5" y="236.9" width="3.8" height="3.6" fill="#1f5a94"/>
<text x="0" y="0" font-size="8.2" transform="translate(384.8 241) scale(0.930 1)">Vav-Cre+; Hif1&#945;<tspan font-size="5.6" dx="0.4" dy="-3.2">f/+</tspan></text>
<rect x="379.5" y="246.5" width="3.8" height="3.6" fill="#5a2f70"/>
<text x="0" y="0" font-size="8.2" transform="translate(384.8 250.6) scale(0.930 1)">Vav-Cre+; Sphk2<tspan font-size="5.6" dx="0.4" dy="-3.2">f/f</tspan><tspan dy="3.2">; Hif1&#945;</tspan><tspan font-size="5.6" dx="0.4" dy="-3.2">f/+</tspan></text>
<text x="58.95" y="277.6" font-size="11.3" font-weight="bold" fill="#111" color="#111" textLength="16.2" lengthAdjust="spacingAndGlyphs">AB</text>
<line x1="113" y1="277" x2="113" y2="354.95" stroke="#231f20" stroke-width="1.3"/>
<line x1="109.8" y1="280.6" x2="113" y2="280.6" stroke="#231f20" stroke-width="1.3"/>
<text x="106.8" y="283.27" font-size="8.6" text-anchor="end" textLength="12.05" lengthAdjust="spacingAndGlyphs">100</text>
<line x1="109.8" y1="295.5" x2="113" y2="295.5" stroke="#231f20" stroke-width="1.3"/>
<text x="106.8" y="298.17" font-size="8.6" text-anchor="end" textLength="8.03" lengthAdjust="spacingAndGlyphs">80</text>
<line x1="109.8" y1="310.4" x2="113" y2="310.4" stroke="#231f20" stroke-width="1.3"/>
<text x="106.8" y="313.07" font-size="8.6" text-anchor="end" textLength="8.03" lengthAdjust="spacingAndGlyphs">60</text>
<line x1="109.8" y1="325.4" x2="113" y2="325.4" stroke="#231f20" stroke-width="1.3"/>
<text x="106.8" y="328.07" font-size="8.6" text-anchor="end" textLength="8.03" lengthAdjust="spacingAndGlyphs">40</text>
<line x1="109.8" y1="339.8" x2="113" y2="339.8" stroke="#231f20" stroke-width="1.3"/>
<text x="106.8" y="342.47" font-size="8.6" text-anchor="end" textLength="8.03" lengthAdjust="spacingAndGlyphs">20</text>
<line x1="109.8" y1="354.4" x2="113" y2="354.4" stroke="#231f20" stroke-width="1.3"/>
<text x="106.8" y="357.07" font-size="8.6" text-anchor="end" textLength="4.02" lengthAdjust="spacingAndGlyphs">0</text>
<text x="88.6" y="345.8" font-size="8.8" transform="rotate(-90 88.6 345.8)" textLength="4.16" lengthAdjust="spacingAndGlyphs" style="stroke-width:0.3px">D</text>
<text x="88.6" y="341.64" font-size="8.8" transform="rotate(-90 88.6 341.64)" textLength="56.74" lengthAdjust="spacingAndGlyphs" style="stroke-width:0.3px">onor&#160;derived&#160;(%)</text>
<line x1="112.45" y1="354.4" x2="222.8" y2="354.4" stroke="#231f20" stroke-width="1.3"/>
<line x1="113" y1="354.4" x2="113" y2="357.4" stroke="#231f20" stroke-width="1.3"/>
<line x1="137.5" y1="354.4" x2="137.5" y2="357.4" stroke="#231f20" stroke-width="1.3"/>
<line x1="162.1" y1="354.4" x2="162.1" y2="357.4" stroke="#231f20" stroke-width="1.3"/>
<line x1="186.7" y1="354.4" x2="186.7" y2="357.4" stroke="#231f20" stroke-width="1.3"/>
<line x1="211.2" y1="354.4" x2="211.2" y2="357.4" stroke="#231f20" stroke-width="1.3"/>
<text x="113" y="366.7" font-size="8.6" text-anchor="middle" textLength="4.02" lengthAdjust="spacingAndGlyphs">0</text>
<text x="137.5" y="366.7" font-size="8.6" text-anchor="middle" textLength="4.02" lengthAdjust="spacingAndGlyphs">4</text>
<text x="162.1" y="366.7" font-size="8.6" text-anchor="middle" textLength="4.02" lengthAdjust="spacingAndGlyphs">8</text>
<text x="186.7" y="366.7" font-size="8.6" text-anchor="middle" textLength="8.03" lengthAdjust="spacingAndGlyphs">12</text>
<text x="211.2" y="366.7" font-size="8.6" text-anchor="middle" textLength="8.03" lengthAdjust="spacingAndGlyphs">16</text>
<text x="169" y="376.9" font-size="9.4" text-anchor="middle" textLength="114.3" lengthAdjust="spacingAndGlyphs">Time after transplantation (weeks)</text>
<circle cx="132" cy="330.8" r="1.9" fill="#5a2f70"/>
<circle cx="136.5" cy="328.59" r="1.9" fill="#5a2f70"/>
<circle cx="138.5" cy="331.54" r="1.9" fill="#5a2f70"/>
<circle cx="143" cy="330.06" r="1.9" fill="#5a2f70"/>
<circle cx="156.6" cy="323.42" r="1.9" fill="#5a2f70"/>
<circle cx="161.1" cy="321.95" r="1.9" fill="#5a2f70"/>
<circle cx="163.1" cy="321.21" r="1.9" fill="#5a2f70"/>
<circle cx="167.6" cy="321.95" r="1.9" fill="#5a2f70"/>
<circle cx="181.2" cy="316.05" r="1.9" fill="#5a2f70"/>
<circle cx="185.7" cy="313.84" r="1.9" fill="#5a2f70"/>
<circle cx="187.7" cy="317.52" r="1.9" fill="#5a2f70"/>
<circle cx="192.2" cy="316.05" r="1.9" fill="#5a2f70"/>
<circle cx="205.7" cy="310.89" r="1.9" fill="#5a2f70"/>
<circle cx="210.2" cy="310.15" r="1.9" fill="#5a2f70"/>
<circle cx="212.2" cy="313.1" r="1.9" fill="#5a2f70"/>
<circle cx="216.7" cy="311.62" r="1.9" fill="#5a2f70"/>
<circle cx="132" cy="332.27" r="1.9" fill="#1f5a94"/>
<circle cx="136.5" cy="333.75" r="1.9" fill="#1f5a94"/>
<circle cx="138.5" cy="330.8" r="1.9" fill="#1f5a94"/>
<circle cx="143" cy="332.27" r="1.9" fill="#1f5a94"/>
<circle cx="156.6" cy="321.95" r="1.9" fill="#1f5a94"/>
<circle cx="161.1" cy="324.9" r="1.9" fill="#1f5a94"/>
<circle cx="163.1" cy="322.69" r="1.9" fill="#1f5a94"/>
<circle cx="167.6" cy="323.42" r="1.9" fill="#1f5a94"/>
<circle cx="181.2" cy="314.57" r="1.9" fill="#1f5a94"/>
<circle cx="185.7" cy="319.74" r="1.9" fill="#1f5a94"/>
<circle cx="187.7" cy="317.52" r="1.9" fill="#1f5a94"/>
<circle cx="192.2" cy="319.74" r="1.9" fill="#1f5a94"/>
<circle cx="205.7" cy="312.36" r="1.9" fill="#1f5a94"/>
<circle cx="210.2" cy="315.31" r="1.9" fill="#1f5a94"/>
<circle cx="212.2" cy="311.62" r="1.9" fill="#1f5a94"/>
<circle cx="216.7" cy="315.31" r="1.9" fill="#1f5a94"/>
<circle cx="132" cy="328.59" r="1.9" fill="#3a9c4c"/>
<circle cx="136.5" cy="327.11" r="1.9" fill="#3a9c4c"/>
<circle cx="138.5" cy="330.06" r="1.9" fill="#3a9c4c"/>
<circle cx="143" cy="328.59" r="1.9" fill="#3a9c4c"/>
<circle cx="156.6" cy="321.21" r="1.9" fill="#3a9c4c"/>
<circle cx="161.1" cy="320.47" r="1.9" fill="#3a9c4c"/>
<circle cx="163.1" cy="324.16" r="1.9" fill="#3a9c4c"/>
<circle cx="167.6" cy="324.9" r="1.9" fill="#3a9c4c"/>
<circle cx="181.2" cy="316.05" r="1.9" fill="#3a9c4c"/>
<circle cx="185.7" cy="313.1" r="1.9" fill="#3a9c4c"/>
<circle cx="187.7" cy="315.31" r="1.9" fill="#3a9c4c"/>
<circle cx="192.2" cy="313.84" r="1.9" fill="#3a9c4c"/>
<circle cx="205.7" cy="310.15" r="1.9" fill="#3a9c4c"/>
<circle cx="210.2" cy="306.46" r="1.9" fill="#3a9c4c"/>
<circle cx="212.2" cy="310.15" r="1.9" fill="#3a9c4c"/>
<circle cx="216.7" cy="308.67" r="1.9" fill="#3a9c4c"/>
<circle cx="132" cy="317.52" r="1.9" fill="#b3143c"/>
<circle cx="137.5" cy="321.95" r="1.9" fill="#b3143c"/>
<circle cx="136.5" cy="319" r="1.9" fill="#b3143c"/>
<circle cx="143.5" cy="317.52" r="1.9" fill="#b3143c"/>
<circle cx="156.6" cy="304.99" r="1.9" fill="#b3143c"/>
<circle cx="162.1" cy="308.67" r="1.9" fill="#b3143c"/>
<circle cx="163.1" cy="305.72" r="1.9" fill="#b3143c"/>
<circle cx="167.8" cy="304.99" r="1.9" fill="#b3143c"/>
<circle cx="181.2" cy="299.09" r="1.9" fill="#b3143c"/>
<circle cx="186.7" cy="297.61" r="1.9" fill="#b3143c"/>
<circle cx="187.2" cy="300.56" r="1.9" fill="#b3143c"/>
<circle cx="192.7" cy="298.35" r="1.9" fill="#b3143c"/>
<circle cx="205.5" cy="286.55" r="1.9" fill="#b3143c"/>
<circle cx="211.2" cy="294.66" r="1.9" fill="#b3143c"/>
<circle cx="212.2" cy="290.97" r="1.9" fill="#b3143c"/>
<circle cx="217.2" cy="292.45" r="1.9" fill="#b3143c"/>
<polyline points="137.5,329.69 162.1,322.69 186.7,315.31 211.2,310.89" fill="none" stroke="#4a2a5a" stroke-width="1.4" stroke-linejoin="round"/>
<circle cx="137.5" cy="329.69" r="1.4" fill="#4a2a5a"/>
<circle cx="162.1" cy="322.69" r="1.4" fill="#4a2a5a"/>
<circle cx="186.7" cy="315.31" r="1.4" fill="#4a2a5a"/>
<circle cx="211.2" cy="310.89" r="1.4" fill="#4a2a5a"/>
<polyline points="137.5,330.73 162.1,323.79 186.7,316.05 211.2,312.58" fill="none" stroke="#22365f" stroke-width="1.4" stroke-linejoin="round"/>
<circle cx="137.5" cy="330.73" r="1.4" fill="#22365f"/>
<circle cx="162.1" cy="323.79" r="1.4" fill="#22365f"/>
<circle cx="186.7" cy="316.05" r="1.4" fill="#22365f"/>
<circle cx="211.2" cy="312.58" r="1.4" fill="#22365f"/>
<polyline points="137.5,329.03 162.1,323.28 186.7,314.57 211.2,309.78" fill="none" stroke="#3aa24c" stroke-width="1.4" stroke-linejoin="round"/>
<circle cx="137.5" cy="329.03" r="1.4" fill="#3aa24c"/>
<circle cx="162.1" cy="323.28" r="1.4" fill="#3aa24c"/>
<circle cx="186.7" cy="314.57" r="1.4" fill="#3aa24c"/>
<circle cx="211.2" cy="309.78" r="1.4" fill="#3aa24c"/>
<polyline points="137.5,318.85 162.1,306.02 186.7,299.31 211.2,290.97" fill="none" stroke="#c41e3f" stroke-width="1.4" stroke-linejoin="round"/>
<circle cx="137.5" cy="318.85" r="1.4" fill="#c41e3f"/>
<circle cx="162.1" cy="306.02" r="1.4" fill="#c41e3f"/>
<circle cx="186.7" cy="299.31" r="1.4" fill="#c41e3f"/>
<circle cx="211.2" cy="290.97" r="1.4" fill="#c41e3f"/>
<text x="137.5" y="312.8" font-size="5.8" text-anchor="middle" fill="#b4566c" color="#b4566c" textLength="6.8" lengthAdjust="spacingAndGlyphs" style="stroke-width:0px">&#8224;&#8224;</text>
<text x="162.1" y="300.4" font-size="5.8" text-anchor="middle" fill="#b4566c" color="#b4566c" textLength="10.2" lengthAdjust="spacingAndGlyphs" style="stroke-width:0px">&#8224;&#8224;&#8224;</text>
<text x="186.7" y="293.4" font-size="5.8" text-anchor="middle" fill="#b4566c" color="#b4566c" textLength="10.2" lengthAdjust="spacingAndGlyphs" style="stroke-width:0px">&#8224;&#8224;&#8224;</text>
<text x="212.2" y="284.7" font-size="5.8" text-anchor="middle" fill="#b4566c" color="#b4566c" textLength="10.2" lengthAdjust="spacingAndGlyphs" style="stroke-width:0px">&#8224;&#8224;&#8224;</text>
<text x="139.8" y="341.9" font-size="6.6" text-anchor="middle" fill="#3a5a80" color="#3a5a80" textLength="10.8" lengthAdjust="spacingAndGlyphs">N.S.</text>
<text x="139.8" y="349.6" font-size="6.6" text-anchor="middle" fill="#5a4474" color="#5a4474" textLength="10.8" lengthAdjust="spacingAndGlyphs">N.S.</text>
<text x="163.3" y="333" font-size="6.6" text-anchor="middle" fill="#3a5a80" color="#3a5a80" textLength="10.8" lengthAdjust="spacingAndGlyphs">N.S.</text>
<text x="163.3" y="340.7" font-size="6.6" text-anchor="middle" fill="#5a4474" color="#5a4474" textLength="10.8" lengthAdjust="spacingAndGlyphs">N.S.</text>
<text x="187.5" y="329" font-size="6.6" text-anchor="middle" fill="#3a5a80" color="#3a5a80" textLength="10.8" lengthAdjust="spacingAndGlyphs">N.S.</text>
<text x="187.5" y="336.7" font-size="6.6" text-anchor="middle" fill="#5a4474" color="#5a4474" textLength="10.8" lengthAdjust="spacingAndGlyphs">N.S.</text>
<text x="210.4" y="322.4" font-size="6.6" text-anchor="middle" fill="#3a5a80" color="#3a5a80" textLength="10.8" lengthAdjust="spacingAndGlyphs">N.S.</text>
<text x="210.4" y="330.1" font-size="6.6" text-anchor="middle" fill="#5a4474" color="#5a4474" textLength="10.8" lengthAdjust="spacingAndGlyphs">N.S.</text>
<line x1="164.2" y1="388.7" x2="174" y2="388.7" stroke="#3aa24c" stroke-width="1.5"/>
<circle cx="169.1" cy="388.7" r="1.9" fill="#3aa24c"/>
<text x="0" y="0" font-size="8.2" transform="translate(175.7 391.1) scale(0.925 1)">Vav-Cre+</text>
<line x1="164.2" y1="398.8" x2="174" y2="398.8" stroke="#c41e3f" stroke-width="1.5"/>
<circle cx="169.1" cy="398.8" r="1.9" fill="#c41e3f"/>
<text x="0" y="0" font-size="8.2" transform="translate(175.7 401.2) scale(0.925 1)">Vav-Cre+; Sphk2<tspan font-size="5.6" dx="0.4" dy="-3.2">f/f</tspan></text>
<line x1="251.7" y1="388.9" x2="261.5" y2="388.9" stroke="#22365f" stroke-width="1.5"/>
<circle cx="256.6" cy="388.9" r="1.9" fill="#22365f"/>
<text x="0" y="0" font-size="8.2" transform="translate(263.2 391.3) scale(0.925 1)">Vav-Cre+; Hif1&#945;<tspan font-size="5.6" dx="0.4" dy="-3.2">f/+</tspan></text>
<line x1="251.7" y1="398.6" x2="261.5" y2="398.6" stroke="#4a2a5a" stroke-width="1.5"/>
<circle cx="256.6" cy="398.6" r="1.9" fill="#4a2a5a"/>
<text x="0" y="0" font-size="8.2" transform="translate(263.2 401) scale(0.925 1)">Vav-Cre+; Sphk2<tspan font-size="5.6" dx="0.4" dy="-3.2">f/f</tspan><tspan dy="3.2">; Hif1&#945;</tspan><tspan font-size="5.6" dx="0.4" dy="-3.2">f/+</tspan></text>
<text x="301.35" y="277.3" font-size="11.3" font-weight="bold" fill="#111" color="#111" textLength="16.7" lengthAdjust="spacingAndGlyphs">AC</text>
<line x1="357.2" y1="287" x2="357.2" y2="355.75" stroke="#231f20" stroke-width="1.3"/>
<line x1="354" y1="290" x2="357.2" y2="290" stroke="#231f20" stroke-width="1.3"/>
<text x="351" y="292.67" font-size="8.6" text-anchor="end" textLength="12.05" lengthAdjust="spacingAndGlyphs">100</text>
<line x1="354" y1="322.9" x2="357.2" y2="322.9" stroke="#231f20" stroke-width="1.3"/>
<text x="351" y="325.57" font-size="8.6" text-anchor="end" textLength="8.03" lengthAdjust="spacingAndGlyphs">50</text>
<line x1="354" y1="355.2" x2="357.2" y2="355.2" stroke="#231f20" stroke-width="1.3"/>
<text x="351" y="357.87" font-size="8.6" text-anchor="end" textLength="4.02" lengthAdjust="spacingAndGlyphs">0</text>
<text x="331.5" y="350.7" font-size="8.8" transform="rotate(-90 331.5 350.7)" textLength="4.16" lengthAdjust="spacingAndGlyphs" style="stroke-width:0.3px">D</text>
<text x="331.5" y="346.54" font-size="8.8" transform="rotate(-90 331.5 346.54)" textLength="56.74" lengthAdjust="spacingAndGlyphs" style="stroke-width:0.3px">onor&#160;derived&#160;(%)</text>
<rect x="363.25" y="290" width="4.7" height="17.93" fill="#5c2c74"/>
<rect x="363.25" y="307.93" width="4.7" height="9.58" fill="#3daa4d"/>
<rect x="363.25" y="317.51" width="4.7" height="37.69" fill="#1d5a94"/>
<rect x="363.25" y="317.01" width="4.7" height="1" fill="#1a1a22"/>
<rect x="363.25" y="307.43" width="4.7" height="1" fill="#1a1a22"/>
<rect x="363.55" y="289.2" width="4.1" height="1.2" fill="#2a1a30"/>
<rect x="376.85" y="290" width="4.7" height="17.93" fill="#5c2c74"/>
<rect x="376.85" y="307.93" width="4.7" height="8.87" fill="#3daa4d"/>
<rect x="376.85" y="316.8" width="4.7" height="38.4" fill="#1d5a94"/>
<rect x="376.85" y="316.3" width="4.7" height="1" fill="#1a1a22"/>
<rect x="376.85" y="307.43" width="4.7" height="1" fill="#1a1a22"/>
<rect x="377.15" y="289.2" width="4.1" height="1.2" fill="#2a1a30"/>
<rect x="390.25" y="290" width="4.7" height="14.6" fill="#5c2c74"/>
<rect x="390.25" y="304.6" width="4.7" height="7.82" fill="#3daa4d"/>
<rect x="390.25" y="312.43" width="4.7" height="42.77" fill="#1d5a94"/>
<rect x="390.25" y="311.93" width="4.7" height="1" fill="#1a1a22"/>
<rect x="390.25" y="304.1" width="4.7" height="1" fill="#1a1a22"/>
<rect x="390.55" y="289.2" width="4.1" height="1.2" fill="#2a1a30"/>
<rect x="403.45" y="290" width="4.7" height="13.04" fill="#5c2c74"/>
<rect x="403.45" y="303.04" width="4.7" height="9.98" fill="#3daa4d"/>
<rect x="403.45" y="313.02" width="4.7" height="42.18" fill="#1d5a94"/>
<rect x="403.45" y="312.52" width="4.7" height="1" fill="#1a1a22"/>
<rect x="403.45" y="302.54" width="4.7" height="1" fill="#1a1a22"/>
<rect x="403.75" y="289.2" width="4.1" height="1.2" fill="#2a1a30"/>
<line x1="353.95" y1="355.4" x2="414.2" y2="355.4" stroke="#231f20" stroke-width="1.3"/>
<line x1="365.6" y1="355.4" x2="365.6" y2="358.4" stroke="#231f20" stroke-width="1.3"/>
<line x1="379.1" y1="355.4" x2="379.1" y2="358.4" stroke="#231f20" stroke-width="1.3"/>
<line x1="392.4" y1="355.4" x2="392.4" y2="358.4" stroke="#231f20" stroke-width="1.3"/>
<line x1="405.6" y1="355.4" x2="405.6" y2="358.4" stroke="#231f20" stroke-width="1.3"/>
<rect x="363.7" y="361.6" width="4.2" height="4.3" fill="#3a9e48"/>
<rect x="377" y="361.6" width="4.2" height="4.3" fill="#c8143c"/>
<rect x="390.3" y="361.6" width="4.2" height="4.3" fill="#1f4f8a"/>
<rect x="403.6" y="361.6" width="4.2" height="4.3" fill="#4a2460"/>
<line x1="368" y1="299" x2="390.3" y2="299" stroke="#222" stroke-width="1"/>
<text x="385.8" y="296.1" font-size="5.6" text-anchor="middle" textLength="3.3" lengthAdjust="spacingAndGlyphs">&#8224;</text>
<line x1="368" y1="332.5" x2="390.3" y2="332.5" stroke="#222" stroke-width="1"/>
<text x="385.8" y="329.4" font-size="5.6" text-anchor="middle" textLength="3.3" lengthAdjust="spacingAndGlyphs">&#8224;</text>
<text x="386" y="377.1" font-size="9.4" text-anchor="middle" textLength="102.5" lengthAdjust="spacingAndGlyphs">16 weeks after transplantation</text>
<rect x="421.2" y="308.7" width="4" height="4.3" fill="#5c2c74"/>
<text x="428.1" y="313.2" font-size="6.7">Myeloid</text>
<rect x="421.2" y="318.8" width="4" height="4.3" fill="#3daa4d"/>
<text x="428.1" y="323.3" font-size="6.7">T lymphoid</text>
<rect x="421.2" y="328.5" width="4" height="4.3" fill="#1d5a94"/>
<text x="428.1" y="333" font-size="6.7">B lymphoid</text>
</svg>
</body></html>
